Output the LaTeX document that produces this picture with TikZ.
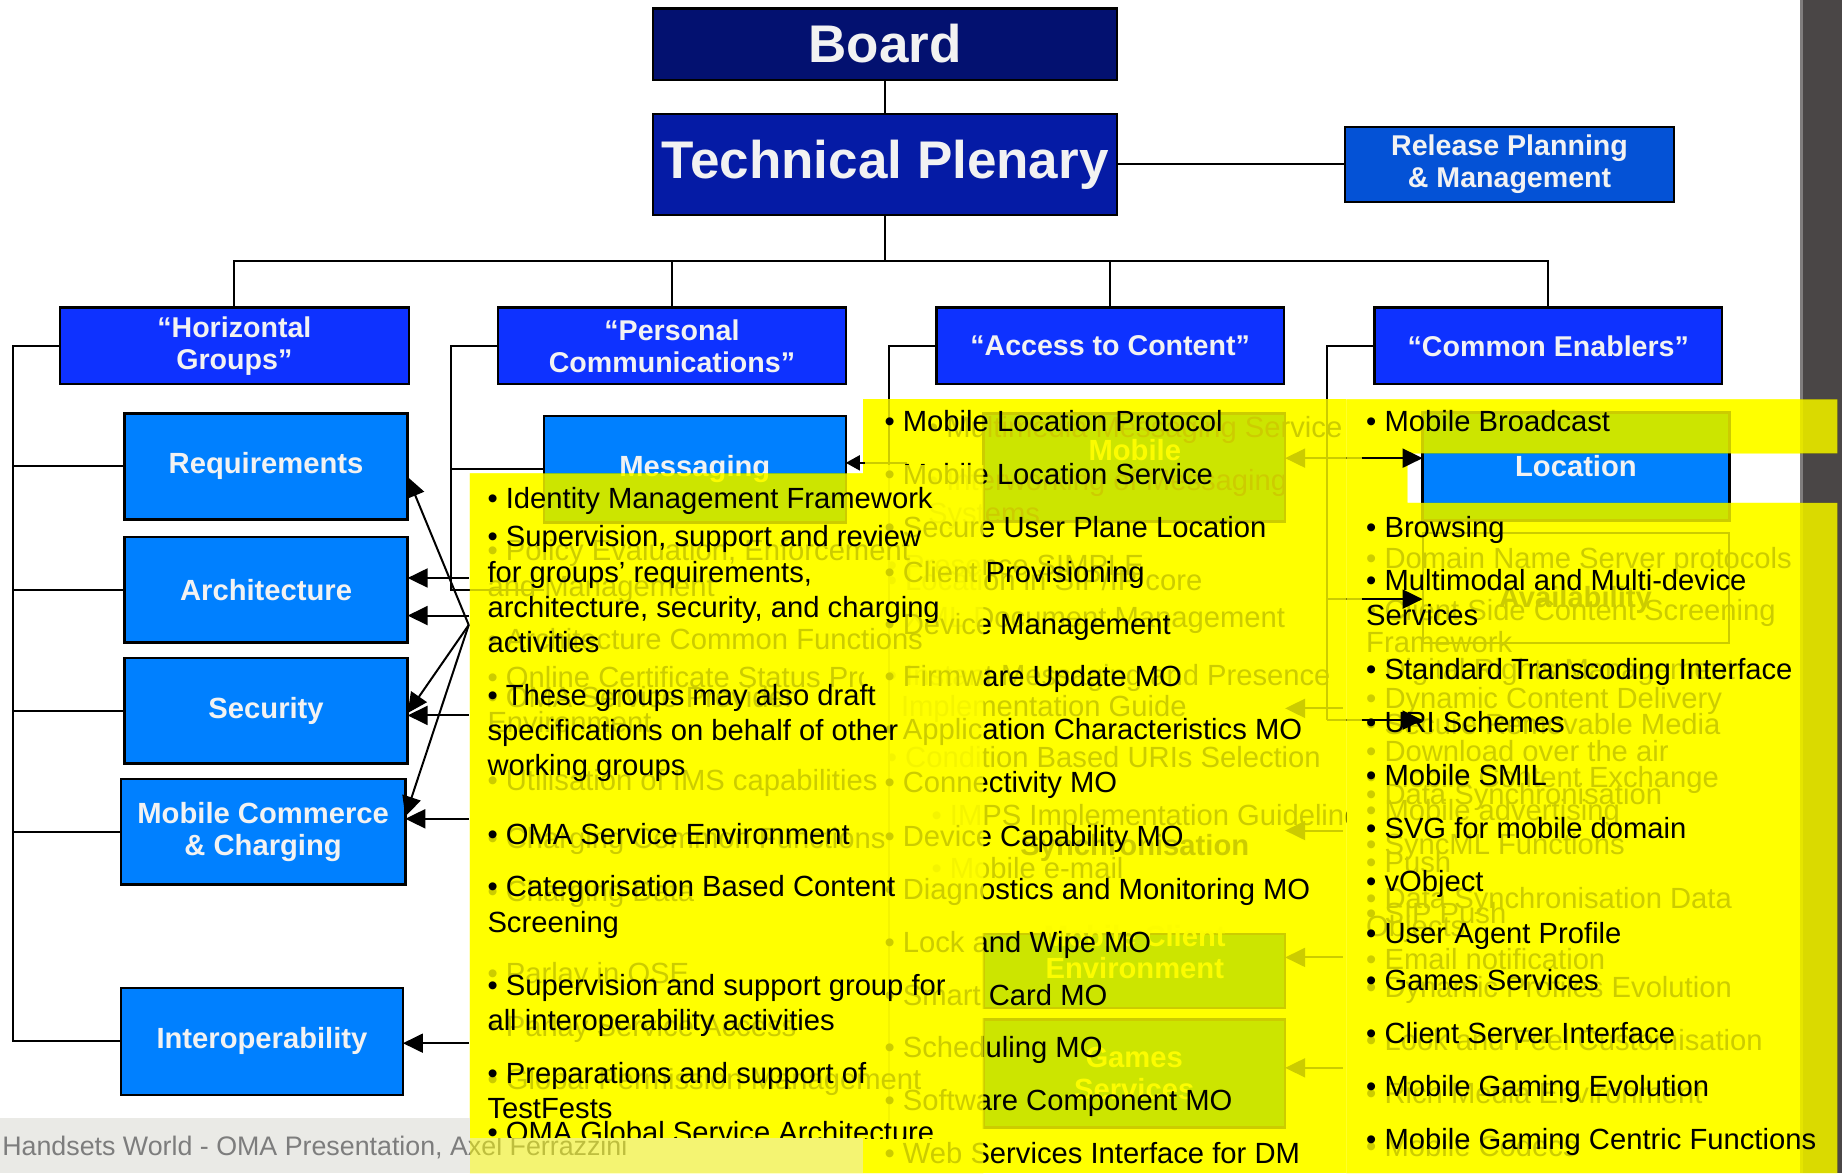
\documentclass[tikz,border=0pt]{standalone}
\usepackage{fontspec}
\setmainfont{Liberation Sans}
\usetikzlibrary{arrows.meta,calc}

\definecolor{boardblue}{RGB}{3,17,112}
\definecolor{plenblue}{RGB}{5,27,165}
\definecolor{relblue}{RGB}{4,82,214}
\definecolor{grpblue}{RGB}{14,50,255}
\definecolor{subblue}{RGB}{0,128,255}
\definecolor{labelwhite}{RGB}{242,242,242}
\definecolor{panelyellow}{RGB}{255,255,0}
\definecolor{footband}{RGB}{234,234,230}
\definecolor{footgrey}{RGB}{125,125,125}
\definecolor{sidebar}{RGB}{74,70,70}

\newcommand{\un}{0.5874pt}

\tikzset{
  every node/.style={inner sep=0pt, outer sep=0pt},
  orgbox/.style={draw=black, line width=1.3pt, text=labelwhite, align=center,
    font=\bfseries\fontsize{14.3}{15.9}\selectfont},
  boxsize/.style 2 args={minimum width=#1*\un, minimum height=#2*\un},
  titlefont/.style={font=\bfseries\fontsize{26.5}{30}\selectfont},
  subfont/.style={font=\bfseries\fontsize{14.6}{15.9}\selectfont},
  wire/.style={draw=black, line width=1pt},
  listitem/.style={anchor=mid west, font=\fontsize{14.6}{17}\selectfont, text=black, yshift=-0.6pt},
  boxlabel/.style={text=labelwhite, align=center, font=\bfseries\fontsize{14.6}{15.9}\selectfont},
  ghostlabel/.style={text=black, font=\bfseries\fontsize{14.6}{15.9}\selectfont},
  bigtip/.style={draw=black, line width=1pt, -{Triangle[length=10pt,width=9.5pt]}},
  smalltip/.style={draw=black, line width=1pt, -{Triangle[length=7pt,width=7.5pt]}},
  glass/.style={fill=panelyellow, fill opacity=0.8},
  tint/.style={fill=panelyellow, blend mode=multiply},
  footerstyle/.style={anchor=mid west, font=\fontsize{13.4}{15}\selectfont, text=footgrey},
}

\begin{document}
\begin{tikzpicture}[x=0.5874pt, y=-0.5874pt]
\useasboundingbox (0,0) rectangle (1568,998.6);
\fill[white] (0,0) rectangle (1568,998.6);
% window edge on the right
\fill[sidebar] (1532,0) rectangle (1568,998.6);
\fill[sidebar!70!white] (1532,0) rectangle (1535,998.6);

% ---------- organisation chart ----------
\node[orgbox, titlefont, fill=boardblue, boxsize={395}{61}] (board) at (753.5,37.5) {Board};
\node[orgbox, titlefont, fill=plenblue, boxsize={395}{86}] (tp) at (753.5,140) {Technical Plenary};
\node[orgbox, fill=relblue, boxsize={280}{64}] (rpm) at (1285,140) {Release Planning\\\& Management};

\node[orgbox, fill=grpblue, boxsize={297}{65}] (hg) at (199.5,294.5) {“Horizontal\\Groups”};
\node[orgbox, fill=grpblue, boxsize={296}{65}] (pc) at (572,294.5) {“Personal\\Communications”};
\node[orgbox, fill=grpblue, boxsize={296}{65}] (ac) at (945,294.5) {“Access to Content”};
\node[orgbox, fill=grpblue, boxsize={296}{65}] (ce) at (1318,294.5) {“Common Enablers”};

\node[orgbox, subfont, fill=subblue, boxsize={241}{90}] (req) at (226.5,397) {Requirements};
\node[orgbox, subfont, fill=subblue, boxsize={241}{90}] (arch) at (226.5,502) {Architecture};
\node[orgbox, subfont, fill=subblue, boxsize={241}{90}] (sec) at (226.5,605) {Security};
\node[orgbox, subfont, fill=subblue, boxsize={242}{90}] (mcc) at (224,708) {Mobile Commerce\\\& Charging};
\node[orgbox, subfont, fill=subblue, boxsize={240}{91}] (iop) at (223,886.5) {Interoperability};
\node[orgbox, subfont, fill=subblue, boxsize={257}{91}] (msg) at (591.5,399.5) {Messaging};
\node[orgbox, subfont, fill=subblue, boxsize={261}{92}] (loc) at (1341.5,397) {Location};

% boxes lying under the panels
\node[orgbox, subfont, fill=subblue, boxsize={257}{92}] (acmob) at (965.5,398) {};
\node[boxlabel] (acmobl) at (966,383) {Mobile};
\node[orgbox, subfont, fill=subblue, boxsize={257}{63}] (acmce) at (965.5,826.5) {};
\node[boxlabel] (acmcel) at (966,810.5) {Mobile Client\\Environment};
\node[orgbox, subfont, fill=subblue, boxsize={257}{92}] (acgames) at (965.5,914) {Games\\Services};
\node[draw=black, line width=1pt, boxsize={261}{93}] (avail) at (1341.5,500.5) {};
\node[ghostlabel] (availl) at (1341,511) {Availability};
\node[ghostlabel] (syncl) at (966,722) {Synchronisation};

% connectors of the chart
\coordinate (bus) at (753.5,222);
\draw[wire] (board) -- (tp);
\draw[wire] (tp.east) -- (rpm.west);
\draw[wire] (tp.south) -- (bus);
\draw[wire] (hg.north) |- (bus) -| (ce.north);
\draw[wire] (pc.north) -- (pc.north |- bus);
\draw[wire] (ac.north) -- (ac.north |- bus);

\coordinate (hgspine) at (11,294.5);
\draw[wire] (hg.west) -- (hgspine) |- (iop.west);
\foreach \b in {req,arch,sec,mcc} \draw[wire] (hgspine |- \b.west) -- (\b.west);

\coordinate (pcspine) at (384,294.5);
\coordinate (pcend) at (463,502);
\draw[wire] (pc.west) -- (pcspine) |- (pcend);
\draw[wire] (pcspine |- msg.west) -- (msg.west);

\coordinate (acspine) at (757,294.5);
\coordinate (acend) at (757,960);
\draw[wire] (ac.west) -- (acspine) -- (acend);

\coordinate (cespine) at (1130,294.5);
\coordinate (ceend) at (1130,613);
\draw[wire] (ce.west) -- (cespine) -- (ceend);
\foreach \y in {390,510,613} \draw[wire] (1130,\y) -- (1159,\y);

\foreach \k/\y in {1/390,2/603,3/707,4/815,5/909} {
  \coordinate (gas\k) at (1143,\y);
  \coordinate (gae\k) at (1094,\y);
  \draw[bigtip] (gas\k) -- (gae\k);
}
\coordinate (msgtail) at (772,394);
\coordinate (msgmid) at (736,394);
\draw[wire] (msgtail) -- (msgmid);

% ---------- text under the middle and right panels ----------
\begin{scope}
\clip (735,340) rectangle (1146,998.6);
\foreach \x/\y/\t in {790/367/{• Multimedia Messaging Service},
  790/412/{• Interworking of Messaging}, 790/440/{Systems},
  755/484/{• Presence SIMPLE}, 755/497/{• Location in SIP/IP core},
  755/529/{• XML Document Management}, 755/578/{• Instant Messaging and Presence},
  767/604/{Implementation Guide}, 755/648/{• Condition Based URIs Selection},
  793/697/{• IMPS Implementation Guideline}, 793/742/{• Mobile e-mail}}
  \node[listitem] (gm\y) at (\x,\y) {\t};
\end{scope}
\begin{scope}
\clip (1146,340) rectangle (1564,998.6);
\foreach \y/\t in {478/{• Domain Name Server protocols},
  523/{• Client Side Content Screening}, 550/{Framework},
  573/{• Digital Rights Management}, 598/{• Dynamic Content Delivery},
  620/{• Secure Removable Media}, 643/{• Download over the air},
  665/{• Mobile Content Exchange}, 679/{• Data Synchronisation},
  693/{• Mobile advertising}, 722/{• SyncML Functions}, 737/{• Push},
  768/{• Data Synchronisation Data}, 781/{• SIP Push}, 792/{Objects},
  820/{• Email notification}, 844/{• Dynamic Profiles Evolution},
  889/{• Look and Feel Customisation}, 934/{• Rich Media Environment},
  979/{• Mobile Codecs}}
  \node[listitem] (gr\y) at (1163,\y) {\t};
\end{scope}

% middle and right panels
\fill[glass] (735,340) rectangle (1146,998.6);
\fill[glass] (1146,340) -- (1564,340) -- (1564,386) -- (1198,386) -- (1198,428)
  -- (1564,428) -- (1564,998.6) -- (1146,998.6) -- cycle;

\foreach \y/\t in {362/{• Mobile Location Protocol}, 407/{• Mobile Location Service},
  452/{• Secure User Plane Location}, 490/{• Client Provisioning},
  535/{• Device Management}, 579/{• Firmware Update MO},
  624/{• Application Characteristics MO}, 669/{• Connectivity MO},
  715/{• Device Capability MO}, 760/{• Diagnostics and Monitoring MO},
  805/{• Lock and Wipe MO}, 850/{• Smart Card MO}, 895/{• Scheduling MO},
  940/{• Software Component MO}, 985/{• Web Services Interface for DM}}
  \node[listitem] (m\y) at (753,\y) {\t};

\foreach \y/\t in {362/{• Mobile Broadcast}, 452/{• Browsing},
  497/{• Multimodal and Multi-device}, 573/{• Standard Transcoding Interface},
  618/{• URI Schemes}, 663/{• Mobile SMIL}, 708/{• SVG for mobile domain},
  753/{• vObject}, 798/{• User Agent Profile}, 838/{• Games Services},
  883/{• Client Server Interface}, 928/{• Mobile Gaming Evolution},
  973/{• Mobile Gaming Centric Functions}}
  \node[listitem] (r\y) at (1163,\y) {\t};
\node[listitem] (r527) at (1163,527) {Services};

% ---------- text under the left panel ----------
\foreach \y/\t in {472/{• Policy Evaluation, Enforcement}, 502/{and Management},
  547/{• Architecture Common Functions}, 597/{• OMA Service Provider},
  618/{Environment}, 667/{• Utilisation of IMS capabilities},
  717/{• Charging Common Functions}, 762/{• Charging Data},
  832/{• Parlay in OSE}, 877/{• Parlay Service Access},
  922/{• Global Permission Management}}
  \node[listitem] (gl\y) at (415,\y) {\t};
\begin{scope}
\clip (400,560) rectangle (735,592);
\node[listitem] (gl580) at (415,580) {• Online Certificate Status Protocol};
\end{scope}

% left panel
\fill[glass] (400,403) -- (735,403) -- (735,396) -- (837,396) -- (837,998.6)
  -- (400,998.6) -- cycle;

% deepen the yellow of all panels
\fill[tint] (400,403) -- (735,403) -- (735,396) -- (837,396) -- (837,998.6)
  -- (400,998.6) -- cycle;
\fill[tint] (735,340) rectangle (1146,998.6);
\fill[tint] (1146,340) -- (1564,340) -- (1564,386) -- (1198,386) -- (1198,428)
  -- (1564,428) -- (1564,998.6) -- (1146,998.6) -- cycle;

\foreach \y/\t in {427/{• Identity Management Framework},
  460/{• Supervision, support and review}, 490/{for groups’ requirements,},
  520/{architecture, security, and charging}, 550/{activities},
  595/{• These groups may also draft}, 625/{specifications on behalf of other},
  655/{working groups}, 713/{• OMA Service Environment},
  758/{• Categorisation Based Content}, 788/{Screening},
  842/{• Supervision and support group for}, 872/{all interoperability activities},
  917/{• Preparations and support of}, 947/{TestFests}}
  \node[listitem] (l\y) at (415,\y) {\t};
\begin{scope}
\clip (400,940) rectangle (840,969);
\node[listitem] (l967) at (415,967) {• OMA Global Service Architecture};
\end{scope}

% ---------- footer ----------
\fill[footband] (0,952) rectangle (400,998.6);
\begin{scope}
\clip (0,952) rectangle (400,998.6);
\node[footerstyle] (foota) at (2,979) {Handsets World - OMA Presentation, Axel Ferrazzini};
\end{scope}
\begin{scope}
\clip (400,969) rectangle (735,998.6);
\fill[footband] (400,969) rectangle (735,998.6);
\node[footerstyle] (footb) at (2,979) {Handsets World - OMA Presentation, Axel Ferrazzini};
\fill[panelyellow, fill opacity=0.5] (400,969) rectangle (735,998.6);
\end{scope}

% ---------- arrows on top ----------
\coordinate (fan) at (399,532);
\draw[bigtip] (fan) -- ($(req.east)+(0,9)$);
\draw[bigtip] (fan) -- ($(sec.east)+(0,2)$);
\draw[bigtip] (fan) -- ($(mcc.east)+(0,-13)$);
\coordinate (tarch1) at (399,492);
\coordinate (tarch2) at (399,524);
\coordinate (tsec) at (399,609);
\coordinate (tmcc) at (399,697);
\coordinate (tiop) at (399,888);
\draw[bigtip] (tarch1) -- (arch.east |- tarch1);
\draw[bigtip] (tarch2) -- (arch.east |- tarch2);
\draw[bigtip] (tsec) -- (sec.east |- tsec);
\draw[bigtip] (tmcc) -- (mcc.east |- tmcc);
\draw[bigtip] (tiop) -- (iop.east |- tiop);

\draw[smalltip] (msgmid) -- (msg.east |- msgmid);

\coordinate (cea) at (1159,390);
\coordinate (ceb) at (1159,510);
\coordinate (cec) at (1159,613);
\coordinate (cecend) at (1211,613);
\draw[bigtip] (cea) -- (loc.west |- cea);
\draw[bigtip] (ceb) -- (avail.west |- ceb);
\draw[bigtip] (cec) -- (cecend);
\end{tikzpicture}
\end{document}
